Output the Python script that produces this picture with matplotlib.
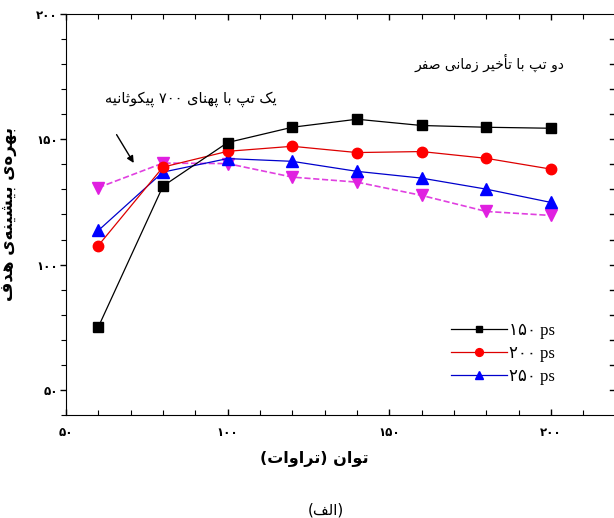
import re
import numpy as np
import matplotlib
matplotlib.use('Agg')
import matplotlib.pyplot as plt
from matplotlib.ticker import MultipleLocator, FixedLocator, FixedFormatter

# data
power = [60, 80, 100, 120, 140, 160, 180, 200]
gain_150 = [75.1, 131.3, 148.7, 154.8, 158.0, 155.5, 154.8, 154.4]
gain_200 = [107.6, 138.9, 145.2, 147.2, 144.7, 145.1, 142.4, 138.1]
gain_250 = [113.6, 136.9, 142.3, 141.2, 137.2, 134.5, 130.1, 124.8]
gain_single = [130.7, 140.5, 140.3, 134.9, 132.9, 127.6, 121.2, 119.6]

legend_labels = ['۱۵۰ ps', '۲۰۰ ps', '۲۵۰ ps']
xtick_vals = [50, 100, 150, 200]
xtick_labels = ['۵۰', '۱۰۰', '۱۵۰', '۲۰۰']
ytick_vals = [50, 100, 150, 200]
ytick_labels = ['۵۰', '۱۰۰', '۱۵۰', '۲۰۰']

xlabel_txt = 'توان (تراوات)'
ylabel_txt = 'بهره\u200cی بیشینه\u200cی هدف'
note_single = 'یک تپ با پهنای ۷۰۰ پیکوثانیه'
note_double = 'دو تپ با تأخیر زمانی صفر'
caption = '(الف)'

# matplotlib has no arabic shaping, so do contextual forms + rtl order by hand
# (isolated, final, initial, medial); right-joining letters have no initial/medial
FORMS = {
    'ا': ('\uFE8D', '\uFE8E', None, None),
    'أ': ('\uFE83', '\uFE84', None, None),
    'آ': ('\uFE81', '\uFE82', None, None),
    'ب': ('\uFE8F', '\uFE90', '\uFE91', '\uFE92'),
    'پ': ('\uFB56', '\uFB57', '\uFB58', '\uFB59'),
    'ت': ('\uFE95', '\uFE96', '\uFE97', '\uFE98'),
    'ث': ('\uFE99', '\uFE9A', '\uFE9B', '\uFE9C'),
    'خ': ('\uFEA5', '\uFEA6', '\uFEA7', '\uFEA8'),
    'د': ('\uFEA9', '\uFEAA', None, None),
    'ر': ('\uFEAD', '\uFEAE', None, None),
    'ز': ('\uFEAF', '\uFEB0', None, None),
    'س': ('\uFEB1', '\uFEB2', '\uFEB3', '\uFEB4'),
    'ش': ('\uFEB5', '\uFEB6', '\uFEB7', '\uFEB8'),
    'ص': ('\uFEB9', '\uFEBA', '\uFEBB', '\uFEBC'),
    'ف': ('\uFED1', '\uFED2', '\uFED3', '\uFED4'),
    'ک': ('\uFB8E', '\uFB8F', '\uFB90', '\uFB91'),
    'ل': ('\uFEDD', '\uFEDE', '\uFEDF', '\uFEE0'),
    'م': ('\uFEE1', '\uFEE2', '\uFEE3', '\uFEE4'),
    'ن': ('\uFEE5', '\uFEE6', '\uFEE7', '\uFEE8'),
    'ه': ('\uFEE9', '\uFEEA', '\uFEEB', '\uFEEC'),
    'و': ('\uFEED', '\uFEEE', None, None),
    'ی': ('\uFBFC', '\uFBFD', '\uFBFE', '\uFBFF'),
}


def fa(text):
    out = []
    for i, c in enumerate(text):
        if c not in FORMS:
            out.append(c)
            continue
        prev = text[i - 1] if i > 0 else ''
        nxt = text[i + 1] if i + 1 < len(text) else ''
        jp = prev in FORMS and FORMS[prev][2] is not None
        jn = nxt in FORMS and FORMS[c][2] is not None
        f = FORMS[c]
        if jp and jn:
            out.append(f[3])
        elif jp:
            out.append(f[1])
        elif jn:
            out.append(f[2])
        else:
            out.append(f[0])
    s = ''.join(out).replace('\u200c', '')[::-1]
    s = re.sub(r'[0-9۰-۹]+', lambda m: m.group(0)[::-1], s)
    return s.translate(str.maketrans('()', ')('))


plt.rcParams['font.family'] = ['DejaVu Sans']

fig = plt.figure(figsize=(6.14, 5.18), dpi=100)
ax = fig.add_axes([0.1075, 0.199, 0.895, 0.774])

ax.plot(power, gain_single, '--', color='#e040e0', lw=1.2, marker='v', ms=8,
        mfc='#e020e0', mec='#e020e0', zorder=2)
ax.plot(power, gain_250, '-', color='#0000cc', lw=0.9, marker='^', ms=8,
        mfc='#0000ff', mec='#0000ff', label=legend_labels[2], zorder=3)
ax.plot(power, gain_200, '-', color='#dd0000', lw=0.9, marker='o', ms=7.5,
        mfc='#ff0000', mec='#ff0000', label=legend_labels[1], zorder=3)
ax.plot(power, gain_150, '-', color='black', lw=0.9, marker='s', ms=6.5,
        mfc='black', mec='black', label=legend_labels[0], zorder=4)

ax.set_xlim(50, 220)
ax.set_ylim(40, 200)

ax.xaxis.set_major_locator(FixedLocator(xtick_vals))
ax.xaxis.set_major_formatter(FixedFormatter(xtick_labels))
ax.yaxis.set_major_locator(FixedLocator(ytick_vals))
ax.yaxis.set_major_formatter(FixedFormatter(ytick_labels))
ax.xaxis.set_minor_locator(MultipleLocator(10))
ax.yaxis.set_minor_locator(MultipleLocator(10))

ax.tick_params(axis='x', which='both', direction='in', top=True, bottom=True, pad=8)
ax.tick_params(axis='y', which='both', direction='out', left=True, right=False, pad=2)
ax.tick_params(which='major', length=4, width=1)
ax.tick_params(which='minor', length=3.5, width=0.8)
for lab in ax.get_xticklabels() + ax.get_yticklabels():
    lab.set_fontweight('bold')
    lab.set_fontsize(8.5)
ax.spines['right'].set_visible(False)
# inward ticks along the right edge (spine itself sits just off the picture)
for yv in np.arange(50, 200, 10):
    ax.plot([218.4, 220], [yv, yv], color='black', lw=1, clip_on=False)

ax.set_xlabel(fa(xlabel_txt), fontsize=11.5, fontweight='bold')
ax.xaxis.set_label_coords(0.452, -0.09)
ax.set_ylabel(fa(ylabel_txt), fontsize=12, fontweight='bold')
ax.yaxis.set_label_coords(-0.09, 0.5)

ax.text(88.5, 166, fa(note_single), fontsize=10.5, ha='center', va='center')
ax.text(181, 180.4, fa(note_double), fontsize=10, ha='center', va='center')
ax.annotate('', xy=(71.4, 139.6), xytext=(65.2, 152.8),
            arrowprops=dict(arrowstyle='-|>', color='black', lw=1, mutation_scale=10))

handles, labels = ax.get_legend_handles_labels()
leg = ax.legend(handles[::-1], labels[::-1], loc='center left',
                bbox_to_anchor=(0.685, 0.152), frameon=False, handlelength=3.4,
                handletextpad=0.1, labelspacing=0.4, borderpad=0, markerscale=0.75,
                prop={'family': ['Liberation Serif', 'DejaVu Sans'], 'size': 12})

fig.text(0.53, 0.016, fa(caption), fontsize=11, ha='center', va='center')

fig.savefig('out.png', dpi=100)
